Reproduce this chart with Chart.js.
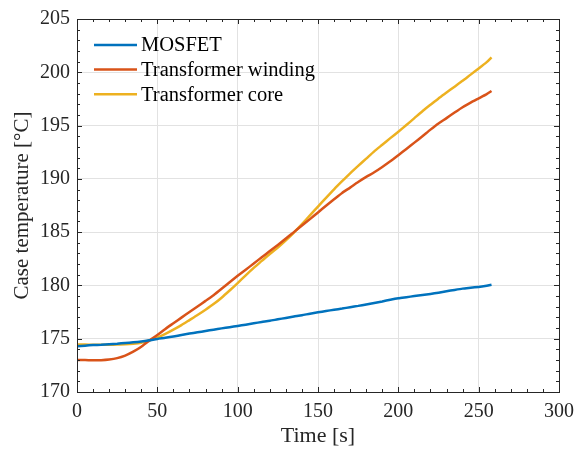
<!DOCTYPE html>
<html>
<head>
<meta charset="utf-8">
<script src="https://cdn.jsdelivr.net/npm/chart.js@4"></script>
<style>
  html, body { margin: 0; padding: 0; background: #ffffff; }
  #c { display: block; }
</style>
</head>
<body>
<canvas id="c" width="587" height="450"></canvas>
<script>
// ---- data ----
const timeS = [0,5,10,15,20,25,30,35,40,45,50,55,60,65,70,75,80,85,90,95,100,105,110,115,120,125,130,135,140,145,150,155,160,165,170,175,180,185,190,195,200,205,210,215,220,225,230,235,240,245,250,255,258];
const mosfet = [174.30,174.35,174.40,174.43,174.48,174.53,174.60,174.66,174.74,174.85,174.98,175.08,175.20,175.35,175.48,175.60,175.72,175.85,175.97,176.08,176.20,176.32,176.45,176.57,176.68,176.82,176.95,177.08,177.20,177.35,177.48,177.60,177.72,177.83,177.96,178.08,178.22,178.36,178.50,178.66,178.80,178.90,179.00,179.10,179.20,179.32,179.45,179.58,179.70,179.78,179.86,179.96,180.06];
const winding = [173.00,173.00,172.98,172.99,173.05,173.18,173.42,173.78,174.25,174.82,175.35,175.92,176.45,176.98,177.50,178.02,178.55,179.08,179.68,180.30,180.90,181.48,182.05,182.65,183.22,183.80,184.40,185.00,185.62,186.22,186.85,187.48,188.08,188.68,189.18,189.70,190.18,190.62,191.12,191.65,192.22,192.80,193.40,194.00,194.62,195.20,195.70,196.22,196.72,197.15,197.55,197.95,198.25];
const core = [174.45,174.45,174.44,174.44,174.44,174.45,174.47,174.52,174.62,174.84,175.10,175.45,175.85,176.28,176.75,177.22,177.72,178.25,178.85,179.52,180.22,180.95,181.65,182.30,182.95,183.55,184.22,184.95,185.75,186.58,187.40,188.22,189.02,189.78,190.52,191.22,191.90,192.58,193.20,193.82,194.42,195.05,195.70,196.35,196.95,197.55,198.10,198.65,199.20,199.78,200.35,200.95,201.40];
const seriesNames = ['MOSFET', 'Transformer winding', 'Transformer core'];
const xTitle = 'Time [s]';
const yTitle = 'Case temperature [°C]';
const xRange = [0, 300];
const yRange = [170, 205];
const xMajorStep = 50, xMinorStep = 10;
const yMajorStep = 5, yMinorStep = 1;

// ---- styles ----
const colors = ['#0072BD', '#D95319', '#EDB120'];
const FONT = "'Liberation Serif', 'Times New Roman', serif";
const AXIS = '#262626';

function toXY(xs, ys) { return xs.map((x, i) => ({ x: x, y: ys[i] })); }

const boxTicks = {
  id: 'boxTicks',
  afterDraw(chart) {
    const { ctx, chartArea: a, scales: { x, y } } = chart;
    ctx.save();
    ctx.strokeStyle = AXIS;
    ctx.lineWidth = 1;
    ctx.beginPath();
    for (let v = xRange[0]; v <= xRange[1] + 1e-9; v += xMinorStep) {
      const px = Math.round(x.getPixelForValue(v)) + 0.5;
      const len = (Math.abs(v % xMajorStep) < 1e-9) ? 5 : 3;
      ctx.moveTo(px, a.bottom); ctx.lineTo(px, a.bottom - len);
      ctx.moveTo(px, a.top); ctx.lineTo(px, a.top + len);
    }
    for (let v = yRange[0]; v <= yRange[1] + 1e-9; v += yMinorStep) {
      const py = Math.round(y.getPixelForValue(v)) + 0.5;
      const len = (Math.abs((v - yRange[0]) % yMajorStep) < 1e-9) ? 5 : 3;
      ctx.moveTo(a.left, py); ctx.lineTo(a.left + len, py);
      ctx.moveTo(a.right, py); ctx.lineTo(a.right - len, py);
    }
    ctx.stroke();
    ctx.strokeRect(Math.round(a.left) + 0.5, Math.round(a.top) + 0.5,
                   Math.round(a.right - a.left), Math.round(a.bottom - a.top));

    // legend inside the axes (top-left)
    ctx.font = '20.5px ' + FONT;
    ctx.textBaseline = 'middle';
    ctx.textAlign = 'left';
    const lx0 = a.left + 17, lx1 = a.left + 60, tx = a.left + 64;
    const ly0 = a.top + 26, dy = 24.6;
    chart.data.datasets.forEach((ds, i) => {
      const ly = ly0 + i * dy;
      ctx.strokeStyle = ds.borderColor;
      ctx.lineWidth = 2.5;
      ctx.beginPath(); ctx.moveTo(lx0, ly); ctx.lineTo(lx1, ly); ctx.stroke();
      ctx.fillStyle = '#000000';
      ctx.fillText(ds.label, tx, ly + 1);
    });
    ctx.restore();
  }
};

new Chart(document.getElementById('c'), {
  type: 'line',
  data: {
    datasets: [
      { label: seriesNames[0], data: toXY(timeS, mosfet), borderColor: colors[0] },
      { label: seriesNames[1], data: toXY(timeS, winding), borderColor: colors[1] },
      { label: seriesNames[2], data: toXY(timeS, core), borderColor: colors[2] }
    ].map(d => Object.assign(d, { borderWidth: 2.5, pointRadius: 0, tension: 0.2, fill: false }))
  },
  options: {
    responsive: false,
    animation: false,
    devicePixelRatio: 1,
    layout: { padding: { top: 18, right: 28, left: 0, bottom: 0 } },
    plugins: { legend: { display: false }, tooltip: { enabled: false } },
    scales: {
      x: {
        type: 'linear', min: xRange[0], max: xRange[1],
        afterFit(s) { s.height = 58; },
        ticks: { stepSize: xMajorStep, color: AXIS, padding: 8, font: { family: FONT, size: 20 }, maxRotation: 0 },
        grid: { color: '#e2e2e2', drawTicks: false },
        border: { display: false },
        title: { display: true, text: xTitle, color: AXIS, font: { family: FONT, size: 22 }, padding: { top: 0, bottom: 1 } }
      },
      y: {
        type: 'linear', min: yRange[0], max: yRange[1],
        afterFit(s) { s.width = 77; },
        ticks: { stepSize: yMajorStep, color: AXIS, padding: 7, font: { family: FONT, size: 20 } },
        grid: { color: '#e2e2e2', drawTicks: false },
        border: { display: false },
        title: { display: true, text: yTitle, color: AXIS, font: { family: FONT, size: 21 }, padding: { top: 10, bottom: 0 } }
      }
    }
  },
  plugins: [boxTicks]
});
</script>
</body>
</html>
